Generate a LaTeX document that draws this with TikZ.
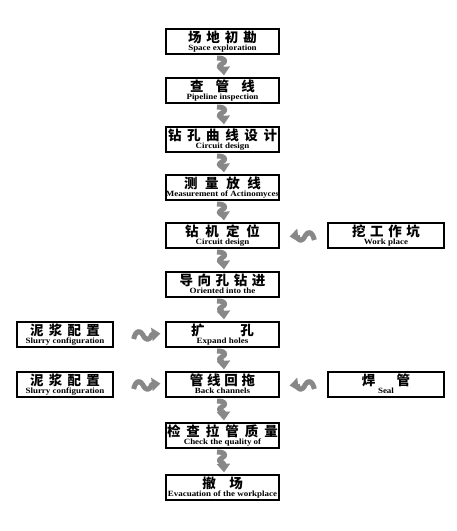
\documentclass[tikz,border=0pt]{standalone}
\usepackage{fontspec}
\usepackage{graphicx}
\setmainfont{Liberation Serif}
\newfontfamily\zhf{Noto Sans CJK SC}
\usetikzlibrary{calc,arrows.meta}
\definecolor{arrowgray}{RGB}{136,136,136}
\newcommand\gp[1]{\hspace{#1pt}}
\newcommand\stepbox[6]{%
  \node[#1] (#2) at (#3,#4) {};
  \node[zhtxt] (#2z) at ($(#2.north)+(0,9.2)$) {#5};
  \node[entxt] (#2e) at ($(#2.north)+(0,21.8)$) {\scalebox{1.12}[1]{#6}};}
% vertical wavy arrow from #1 (above) to #2 (below)
\newcommand\wavD[2]{%
  \draw[wav] ($(#1.south)+(-5.5,3.5)$) .. controls ($(#1.south)+(4,3)$) and ($(#1.south)+(4,7.5)$) ..
    ($(#1.south)+(-1,9.5)$) .. controls ($(#1.south)+(-5,11.5)$) and ($(#1.south)+(-3,13.5)$) ..
    ($(#1.south)+(1,14.5)$) -- ($(#2.north)+(1.5,-2)$);}
% horizontal wavy arrow, #1 on the left pointing right to #2
\newcommand\wavR[2]{%
  \draw[wav] ($(#1.east)+(20,4.5)$) .. controls ($(#1.east)+(22,-4)$) and ($(#1.east)+(26,-5)$) ..
    ($(#1.east)+(29,0)$) .. controls ($(#1.east)+(32,6.5)$) and ($(#1.east)+(36,6.5)$) ..
    ($(#1.east)+(38,0)$) -- ($(#2.west)+(-5,-1)$);}
% horizontal wavy arrow, #1 on the right pointing left to #2
\newcommand\wavL[2]{%
  \draw[wav] ($(#1.west)+(-13,4.5)$) .. controls ($(#1.west)+(-15,-4)$) and ($(#1.west)+(-19,-5)$) ..
    ($(#1.west)+(-22,0)$) .. controls ($(#1.west)+(-25,6.5)$) and ($(#1.west)+(-29,6.5)$) ..
    ($(#1.west)+(-30,0)$) -- ($(#2.east)+(10,1)$);}
\tikzset{
  mainbox/.style={draw=black, line width=1.3pt, minimum width=113pt, minimum height=25pt, inner sep=0pt},
  leftbox/.style={mainbox, minimum width=96pt},
  rightbox/.style={mainbox, minimum width=116pt},
  zhtxt/.style={inner sep=0pt, font=\zhf\bfseries\fontsize{13.5}{14}\selectfont},
  entxt/.style={inner sep=0pt, anchor=base, font=\bfseries\fontsize{8}{9}\selectfont},
  wav/.style={draw=arrowgray, line width=5pt, line join=round, -{Triangle[length=8.5pt,width=13pt]}}
}
\begin{document}
\begin{tikzpicture}[x=1pt,y=-1pt]
\useasboundingbox[fill=white] (0,0) rectangle (456,531);
\stepbox{mainbox}{b1}{222.5}{41.5}{场\gp{5}地\gp{5}初\gp{5}勘}{Space exploration}
\stepbox{mainbox}{b2}{222.5}{90.5}{查\gp{12.2}管\gp{12.2}线}{Pipeline inspection}
\stepbox{mainbox}{b3}{222.5}{139.5}{钻\gp{5.6}孔\gp{5.6}曲\gp{5.6}线\gp{5.6}设\gp{5.6}计}{Circuit design}
\stepbox{mainbox}{b4}{222.5}{187.5}{测\gp{7.6}量\gp{7.6}放\gp{7.6}线}{Measurement of Actinomyces}
\stepbox{mainbox}{b5}{222.5}{235.5}{钻\gp{7}机\gp{7}定\gp{7}位}{Circuit design}
\stepbox{mainbox}{b6}{222.5}{284.5}{导\gp{4.6}向\gp{4.6}孔\gp{4.6}钻\gp{4.6}进}{Oriented into the}
\stepbox{mainbox}{b7}{222.5}{334.5}{扩\gp{36}孔}{Expand holes}
\stepbox{mainbox}{b8}{222.5}{384.5}{管\gp{3.8}线\gp{3.8}回\gp{3.8}拖}{Back channels}
\stepbox{mainbox}{b9}{222.5}{435.5}{检\gp{6}查\gp{6}拉\gp{6}管\gp{6}质\gp{6}量}{Check the quality of}
\stepbox{mainbox}{b10}{222.5}{487.5}{撤\gp{13.5}场}{Evacuation of the workplace}
\stepbox{leftbox}{l7}{65}{334.5}{泥\gp{5.3}浆\gp{5.3}配\gp{5.3}置}{Slurry configuration}
\stepbox{leftbox}{l8}{65}{384.5}{泥\gp{5.3}浆\gp{5.3}配\gp{5.3}置}{Slurry configuration}
\stepbox{rightbox}{r5}{386}{235.5}{挖\gp{4.6}工\gp{4.6}作\gp{4.6}坑}{Work place}
\stepbox{rightbox}{r8}{386}{384.5}{焊\gp{21.5}管}{Seal}
\wavD{b1}{b2}
\wavD{b2}{b3}
\wavD{b3}{b4}
\wavD{b4}{b5}
\wavD{b5}{b6}
\wavD{b6}{b7}
\wavD{b7}{b8}
\wavD{b8}{b9}
\wavD{b9}{b10}
\wavR{l7}{b7}
\wavR{l8}{b8}
\wavL{r5}{b5}
\wavL{r8}{b8}
\end{tikzpicture}
\end{document}
